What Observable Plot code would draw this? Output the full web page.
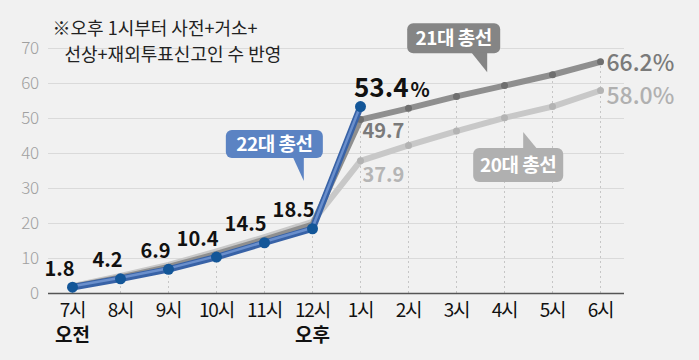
<!DOCTYPE html>
<html>
<head>
<meta charset="utf-8">
<script src="https://cdn.jsdelivr.net/npm/d3@7"></script>
<script src="https://cdn.jsdelivr.net/npm/@observablehq/plot@0.6"></script>
<style>
  html, body { margin: 0; padding: 0; background: #f1f1f1; }
  #chart svg { display: block; }
  .xlab text { letter-spacing: -1.2px; }
  .ylab text { letter-spacing: -0.5px; }
</style>
</head>
<body>
<div id="chart"></div>
<script>
// ---- data ----
const hours = ["7시","8시","9시","10시","11시","12시","1시","2시","3시","4시","5시","6시"];
const periodLabels = ["오전", "", "", "", "", "오후", "", "", "", "", "", ""];
const turnout22 = [1.8, 4.2, 6.9, 10.4, 14.5, 18.5, 53.4];
const turnout21 = [1.9, 4.6, 7.6, 11.3, 15.4, 19.7, 49.7, 52.9, 56.3, 59.4, 62.5, 66.2];
const turnout20 = [2.1, 5.0, 8.2, 12.0, 16.1, 20.5, 37.9, 42.3, 46.4, 50.2, 53.4, 58.0];
const yTicks = [0, 10, 20, 30, 40, 50, 60, 70];
const noteLines = ["※오후 1시부터 사전+거소+", "선상+재외투표신고인 수 반영"];
const seriesNames = ["22대 총선", "21대 총선", "20대 총선"];

// ---- tables ----
const s22 = turnout22.map((v, i) => ({i, v}));
const s21 = turnout21.map((v, i) => ({i, v}));
const s20 = turnout20.map((v, i) => ({i, v}));
const labels22 = s22.slice(0, 6);
const last22 = s22[s22.length - 1];
const rules = hours.map((h, i) => ({i, top: Math.max(turnout21[i], turnout20[i], turnout22[i] ?? 0)}));
const periods = periodLabels.map((label, i) => ({i, label})).filter(d => d.label);

// callout placement (annotation layout)
const calloutSpecs = [
  {label: seriesNames[0], at: [4.83, 32], box: [-78, 19, -51, -23], ptr: -11, fill: "#5b83c3"},
  {label: seriesNames[1], at: [8.65, 63.1], box: [-80, 13, -49, -19], ptr: -16, fill: "#858585"},
  {label: seriesNames[2], at: [9.4, 46], box: [-50, 40, 16, 50], ptr: 14, fill: "#b0b0b0"}
];

function callouts(index, scales) {
  const {x, y} = scales;
  const g = d3.create("svg:g");
  for (const c of calloutSpecs) {
    const tx = x(c.at[0]), ty = y(c.at[1]);
    const l = tx + c.box[0], r = tx + c.box[1], t = ty + c.box[2], b = ty + c.box[3];
    g.append("rect").attr("x", l).attr("y", t).attr("width", r - l).attr("height", b - t)
      .attr("rx", 6).attr("fill", c.fill);
    const edge = c.box[2] > 0 ? t + 1 : b - 1;
    g.append("path")
      .attr("d", `M${tx + c.ptr},${edge}L${tx},${edge}L${tx},${ty}Z`)
      .attr("fill", c.fill);
    g.append("text").attr("x", (l + r) / 2).attr("y", (t + b) / 2).attr("dy", "0.35em")
      .attr("text-anchor", "middle").attr("fill", "white")
      .attr("font-size", 19).attr("font-weight", 700).attr("letter-spacing", "-0.5px")
      .text(c.label);
  }
  return g.node();
}

const chart = Plot.plot({
  width: 699,
  height: 360,
  marginLeft: 48,
  marginRight: 75,
  marginTop: 48,
  marginBottom: 67,
  style: {fontFamily: "'Noto Sans CJK KR', 'Noto Sans', sans-serif", background: "#f1f1f1", overflow: "visible"},
  x: {domain: [-0.5, 11.5], label: null},
  y: {domain: [0, 70], label: null},
  marks: [
    Plot.gridY(yTicks, {stroke: "#dadada", strokeOpacity: 1, strokeWidth: 1}),
    Plot.ruleX(rules, {x: "i", y1: 0, y2: "top", stroke: "#c6c6c6", strokeDasharray: "2,3"}),
    Plot.ruleY([0], {stroke: "#555", strokeWidth: 1.5}),
    Plot.axisY(yTicks, {tickSize: 0, tickPadding: 10, fontSize: 17, fill: "#a0a0a0", fontWeight: 300, className: "ylab"}),
    Plot.axisX(d3.range(hours.length), {tickFormat: i => hours[i], tickSize: 0, tickPadding: 10, fontSize: 19, fill: "#111", fontWeight: 400, className: "xlab"}),
    Plot.text(periods, {x: "i", text: "label", frameAnchor: "bottom", lineAnchor: "middle", dy: 42, fontSize: 19, fontWeight: 700, fill: "#111"}),
    // 20대
    Plot.line(s20, {x: "i", y: "v", stroke: "#c8c8c8", strokeWidth: 6}),
    Plot.dot(s20.slice(6), {x: "i", y: "v", r: 3.5, fill: "#b3b3b3"}),
    // 21대
    Plot.line(s21, {x: "i", y: "v", stroke: "#8f8f8f", strokeWidth: 6}),
    Plot.dot(s21.slice(6), {x: "i", y: "v", r: 3.5, fill: "#6f6f6f"}),
    // 22대
    Plot.line(s22, {x: "i", y: "v", stroke: "#3862a6", strokeWidth: 6.5}),
    Plot.line(s22, {x: "i", y: "v", stroke: "#6a8fcc", strokeWidth: 2.5, dy: -1}),
    Plot.dot(s22, {x: "i", y: "v", r: 5.5, fill: "#135698"}),
    // value labels
    Plot.text(labels22, {x: "i", y: "v", text: d => d.v.toFixed(1), textAnchor: "end", dx: 2, dy: -18, fontSize: 20, fontWeight: 700, fill: "#111", letterSpacing: "-0.5px"}),
    Plot.text([last22], {x: "i", y: "v", text: d => d.v.toFixed(1), textAnchor: "end", dx: 48, dy: -18, fontSize: 26, fontWeight: 700, fill: "#111"}),
    Plot.text([last22], {x: "i", y: "v", text: () => "%", textAnchor: "start", dx: 50, dy: -16, fontSize: 20, fontWeight: 700, fill: "#111"}),
    Plot.text([s21[6]], {x: "i", y: "v", text: d => d.v.toFixed(1), textAnchor: "start", dx: 2, dy: 12, fontSize: 20, fontWeight: 700, fill: "#7a7a7a"}),
    Plot.text([s20[6]], {x: "i", y: "v", text: d => d.v.toFixed(1), textAnchor: "start", dx: 2, dy: 15, fontSize: 20, fontWeight: 700, fill: "#b5b5b5"}),
    Plot.text([s21[11]], {x: "i", y: "v", text: d => d.v.toFixed(1) + "%", textAnchor: "start", dx: 6, dy: 2, fontSize: 23, fontWeight: 500, fill: "#7a7a7a"}),
    Plot.text([s20[11]], {x: "i", y: "v", text: d => d.v.toFixed(1) + "%", textAnchor: "start", dx: 6, dy: 6, fontSize: 23, fontWeight: 500, fill: "#b0b0b0"}),
    // note
    Plot.text([noteLines[0]], {frameAnchor: "top-left", lineAnchor: "middle", text: d => d, textAnchor: "start", dx: 4, dy: -19, fontSize: 18, fill: "#222"}),
    Plot.text([noteLines[1]], {frameAnchor: "top-left", lineAnchor: "middle", text: d => d, textAnchor: "start", dx: 16, dy: 7, fontSize: 18, fill: "#222"}),
    callouts
  ]
});
document.getElementById("chart").appendChild(chart);
</script>
</body>
</html>
